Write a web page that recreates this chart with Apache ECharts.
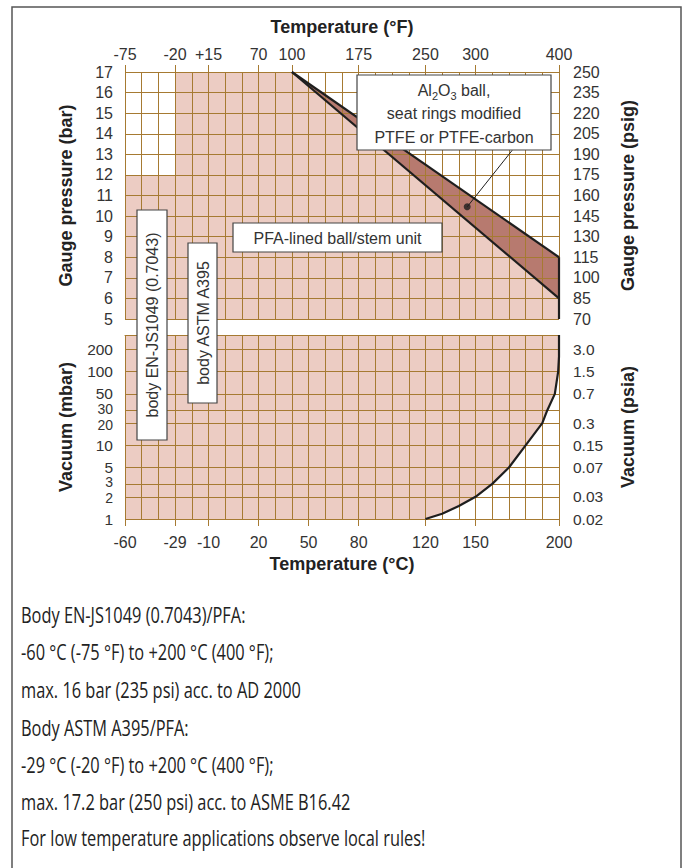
<!DOCTYPE html>
<html><head><meta charset="utf-8">
<script src="https://cdn.jsdelivr.net/npm/echarts@6/dist/echarts.min.js"></script>
<style>html,body{margin:0;padding:0;background:#fff}#c{width:689px;height:868px}</style>
</head><body><div id="c"></div>
<script>
// ---- tick positions / labels ----
const tempCTickPos = [-60, -30, -10, 20, 50, 80, 120, 150, 200];
const tempCTickLabels = ['-60', '-29', '-10', '20', '50', '80', '120', '150', '200'];
const tempFTickPos = [-60, -30, -10, 20, 40, 80, 120, 150, 200];
const tempFTickLabels = ['-75', '-20', '+15', '70', '100', '175', '250', '300', '400'];
const psigLabels = ['70', '85', '100', '115', '130', '145', '160', '175', '190', '205', '220', '235', '250'];
const mbarTicks = [1, 2, 3, 5, 10, 20, 30, 50, 100, 200];
const mbarLabels = ['1', '{dn|2}', '{up|3}', '5', '10', '{dn|20}', '{up|30}', '50', '100', '200'];
const psiaLabels = ['0.02', '0.03', '', '0.07', '0.15', '0.3', '', '0.7', '1.5', '3.0'];

// ---- boundaries (temperature °C, pressure) ----
const pfaLimit = [[-60, 12], [-30, 12], [-30, 17], [40, 17], [200, 6]];
const ceramicUpper = [[40, 17], [200, 8]];
const ceramicLower = [[40, 17], [200, 6]];
const edge200 = [[200, 8], [200, 5]];
const vacuumStart = [[-60, 1]];
const vacuumLimit = [[120, 1], [130, 1.18], [140, 1.5], [150, 2], [160, 3], [170, 5], [180, 10], [190, 20], [193, 30], [197.5, 50], [199.5, 100], [200, 160], [200, 315]];
const markerPoint = [[145, 10.45]];
const leaderLine = [[145, 10.45], [172, 13.2]];

const notes = [
  'Body EN-JS1049 (0.7043)/PFA:',
  '-60 °C (-75 °F) to +200 °C (400 °F);',
  'max. 16 bar (235 psi) acc. to AD 2000',
  'Body ASTM A395/PFA:',
  '-29 °C (-20 °F) to +200 °C (400 °F);',
  'max. 17.2 bar (250 psi) acc. to ASME B16.42',
  'For low temperature applications observe local rules!'
];

const FONT = "'Liberation Sans', Arial, sans-serif";
const GRIDC = '#a67a32';
const PINK = '#ecccc3';
const DARK = '#b77a6f';
const INK = '#1e1e1e';
const lab = (pos, labels) => v => {
  const i = pos.findIndex(p => Math.abs(p - v) < 1e-6 * Math.max(1, Math.abs(p)));
  return i < 0 ? '' : labels[i];
};
const labelStyle = { color: '#333', fontFamily: FONT, fontSize: 16 };
const logLabelStyle = { color: '#333', fontFamily: FONT, fontSize: 15.5,
  rich: {
    up: { color: '#333', fontFamily: FONT, fontSize: 14, padding: [0, 0, 3, 0] },
    dn: { color: '#333', fontFamily: FONT, fontSize: 14, padding: [3, 0, 0, 0] }
  } };
const nameStyle = { color: '#222', fontFamily: FONT, fontSize: 18, fontWeight: 'bold' };
const tick = { show: true, length: 7, lineStyle: { color: GRIDC, width: 1 } };

const chart = echarts.init(document.getElementById('c'), null, { renderer: 'svg', width: 689, height: 868 });

const graphic = [
  { type: 'rect', silent: true, z: 100, shape: { x: 12, y: 7, width: 669, height: 900 }, style: { fill: 'none', stroke: '#555', lineWidth: 1.5 } },
  { type: 'rect', z: 50, shape: { x: 357, y: 75, width: 194, height: 75 }, style: { fill: '#fff', stroke: '#444', lineWidth: 1.2 } },
  { type: 'text', z: 51, x: 454, y: 113.5, style: {
      text: 'Al{s|2}O{s|3} ball,\nseat rings modified\nPTFE or PTFE-carbon',
      align: 'center', verticalAlign: 'middle', fill: '#333', fontFamily: FONT, fontSize: 16, lineHeight: 23.5,
      rich: { s: { fontSize: 11, fontFamily: FONT, fill: '#333', lineHeight: 11, verticalAlign: 'bottom' } }
  } },
  { type: 'rect', z: 50, shape: { x: 233, y: 223, width: 209, height: 29 }, style: { fill: '#fff', stroke: '#444', lineWidth: 1.2 } },
  { type: 'text', z: 51, x: 337.5, y: 238, style: { text: 'PFA-lined ball/stem unit', align: 'center', verticalAlign: 'middle', fill: '#333', fontFamily: FONT, fontSize: 16 } },
  { type: 'rect', z: 50, shape: { x: 137, y: 210, width: 30, height: 230 }, style: { fill: '#fff', stroke: '#444', lineWidth: 1.2 } },
  { type: 'text', z: 51, x: 152.5, y: 325, rotation: Math.PI / 2, style: { text: 'body EN-JS1049 (0.7043)', align: 'center', verticalAlign: 'middle', fill: '#333', fontFamily: FONT, fontSize: 16 } },
  { type: 'rect', z: 50, shape: { x: 188, y: 243, width: 29, height: 160 }, style: { fill: '#fff', stroke: '#444', lineWidth: 1.2 } },
  { type: 'text', z: 51, x: 203, y: 323, rotation: Math.PI / 2, style: { text: 'body ASTM A395', align: 'center', verticalAlign: 'middle', fill: '#333', fontFamily: FONT, fontSize: 16 } }
];
const noteY = [615, 652, 690, 728, 765, 802, 838];
notes.forEach((t, i) => graphic.push({ type: 'text', x: 21, y: noteY[i], scaleX: 0.78, style: { text: t, align: 'left', verticalAlign: 'middle', fill: '#222', fontFamily: "'Open Sans', sans-serif", fontSize: 21 } }));

chart.setOption({
  animation: false,
  backgroundColor: '#fff',
  grid: [
    { left: 125, top: 72, width: 434, height: 247 },
    { left: 125, top: 335, width: 434, height: 184 }
  ],
  xAxis: [
    { gridIndex: 0, type: 'value', position: 'top', min: -60, max: 200, z: 3,
      name: 'Temperature (°F)', nameLocation: 'middle', nameGap: 36, nameTextStyle: nameStyle,
      axisLine: { show: false }, splitLine: { show: false },
      axisTick: Object.assign({ customValues: tempFTickPos }, tick),
      axisLabel: Object.assign({ customValues: tempFTickPos, margin: 10, formatter: lab(tempFTickPos, tempFTickLabels) }, labelStyle) },
    { gridIndex: 0, type: 'value', position: 'bottom', min: -60, max: 200, interval: 10, z: 3,
      axisLine: { show: false }, axisTick: { show: false }, axisLabel: { show: false },
      splitLine: { show: true, lineStyle: { color: GRIDC, width: 1 } } },
    { gridIndex: 1, type: 'value', position: 'bottom', min: -60, max: 200, z: 3,
      name: 'Temperature (°C)', nameLocation: 'middle', nameGap: 36, nameTextStyle: nameStyle,
      axisLine: { show: false }, splitLine: { show: false },
      axisTick: Object.assign({ customValues: tempCTickPos }, tick),
      axisLabel: Object.assign({ customValues: tempCTickPos, margin: 15, formatter: lab(tempCTickPos, tempCTickLabels) }, labelStyle) },
    { gridIndex: 1, type: 'value', position: 'top', min: -60, max: 200, interval: 10, z: 3,
      axisLine: { show: true, lineStyle: { color: GRIDC, width: 1 } }, axisTick: { show: false }, axisLabel: { show: false },
      splitLine: { show: true, lineStyle: { color: GRIDC, width: 1 } } }
  ],
  yAxis: [
    { gridIndex: 0, type: 'value', position: 'left', min: 5, max: 17, interval: 1, z: 3,
      name: 'Gauge pressure (bar)', nameLocation: 'middle', nameGap: 50, nameTextStyle: nameStyle,
      axisLine: { show: false }, axisTick: tick,
      axisLabel: Object.assign({ margin: 12 }, labelStyle),
      splitLine: { show: true, lineStyle: { color: GRIDC, width: 1 } } },
    { gridIndex: 0, type: 'value', position: 'right', min: 5, max: 17, interval: 1, z: 3,
      name: 'Gauge pressure (psig)', nameLocation: 'middle', nameGap: 60, nameTextStyle: nameStyle,
      axisLine: { show: false }, axisTick: tick, splitLine: { show: false },
      axisLabel: Object.assign({ margin: 14, formatter: v => psigLabels[Math.round(v - 5)] }, labelStyle) },
    { gridIndex: 1, type: 'log', position: 'left', min: 1, max: 315, z: 3,
      name: 'Vacuum (mbar)', nameLocation: 'middle', nameGap: 50, nameTextStyle: nameStyle,
      axisLine: { show: false }, axisTick: Object.assign({ customValues: mbarTicks }, tick),
      axisLabel: Object.assign({ customValues: mbarTicks, margin: 12, formatter: lab(mbarTicks, mbarLabels) }, logLabelStyle),
      splitLine: { show: true, lineStyle: { color: GRIDC, width: 1 } } },
    { gridIndex: 1, type: 'log', position: 'right', min: 1, max: 315, z: 3,
      name: 'Vacuum (psia)', nameLocation: 'middle', nameGap: 60, nameTextStyle: nameStyle,
      axisLine: { show: false }, axisTick: Object.assign({ customValues: mbarTicks }, tick), splitLine: { show: false },
      axisLabel: Object.assign({ customValues: mbarTicks, margin: 14, formatter: lab(mbarTicks, psiaLabels) }, labelStyle, { fontSize: 15.5 }) }
  ],
  series: [
    { name: 'ceramic band', type: 'line', xAxisIndex: 1, yAxisIndex: 0, data: ceramicUpper, symbol: 'none', z: 2,
      lineStyle: { width: 0, opacity: 0 }, areaStyle: { color: DARK, opacity: 1, origin: 'start' } },
    { name: 'PFA range', type: 'line', xAxisIndex: 1, yAxisIndex: 0, data: pfaLimit, symbol: 'none', z: 2,
      lineStyle: { width: 0, opacity: 0 }, areaStyle: { color: PINK, opacity: 1, origin: 'start' } },
    { name: 'ceramic upper', type: 'line', xAxisIndex: 1, yAxisIndex: 0, data: ceramicUpper, symbol: 'none', z: 5, clip: false,
      lineStyle: { color: INK, width: 2.2 } },
    { name: 'ceramic lower', type: 'line', xAxisIndex: 1, yAxisIndex: 0, data: ceramicLower, symbol: 'none', z: 5, clip: false,
      lineStyle: { color: INK, width: 2.2 } },
    { name: 'edge 200', type: 'line', xAxisIndex: 1, yAxisIndex: 0, data: edge200, symbol: 'none', z: 5, clip: false,
      lineStyle: { color: INK, width: 2.2 } },
    { name: 'leader', type: 'line', xAxisIndex: 1, yAxisIndex: 0, data: leaderLine, symbol: 'none', z: 5, clip: false,
      lineStyle: { color: INK, width: 1 } },
    { name: 'marker', type: 'scatter', xAxisIndex: 1, yAxisIndex: 0, data: markerPoint, symbolSize: 7, z: 6,
      itemStyle: { color: INK } },
    { name: 'vacuum range', type: 'line', xAxisIndex: 3, yAxisIndex: 2, data: vacuumStart.concat(vacuumLimit), symbol: 'none', z: 2,
      lineStyle: { width: 0, opacity: 0 }, areaStyle: { color: PINK, opacity: 1, origin: 'end' } },
    { name: 'vacuum limit', type: 'line', xAxisIndex: 3, yAxisIndex: 2, data: vacuumLimit, symbol: 'none', z: 5, clip: false,
      lineStyle: { color: INK, width: 2.2, join: 'round' } }
  ],
  graphic: graphic
});
</script>
</body></html>
